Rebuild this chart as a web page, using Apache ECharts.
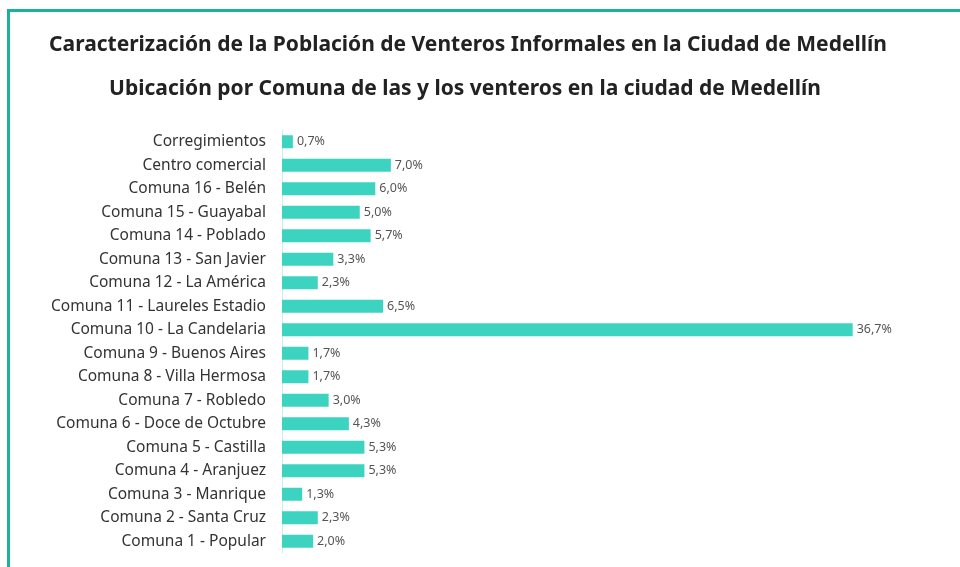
<!DOCTYPE html>
<html>
<head>
<meta charset="utf-8">
<script src="https://cdn.jsdelivr.net/npm/echarts@6/dist/echarts.min.js"></script>
<style>
html,body{margin:0;padding:0;background:#fff;overflow:hidden;width:960px;height:567px;}
#frame{position:absolute;left:7px;top:9px;width:953px;height:558px;border-left:3px solid #19b39c;border-top:3px solid #19b39c;box-sizing:border-box;}
#chart{position:absolute;left:0;top:0;width:960px;height:567px;}
</style>
</head>
<body>
<div id="frame"></div>
<div id="chart"></div>
<script>
const titleMain = 'Caracterización de la Población de Venteros Informales en la Ciudad de Medellín';
const titleSub = 'Ubicación por Comuna de las y los venteros en la ciudad de Medellín';
const categories = [
  'Comuna 1 - Popular',
  'Comuna 2 - Santa Cruz',
  'Comuna 3 - Manrique',
  'Comuna 4 - Aranjuez',
  'Comuna 5 - Castilla',
  'Comuna 6 - Doce de Octubre',
  'Comuna 7 - Robledo',
  'Comuna 8 - Villa Hermosa',
  'Comuna 9 - Buenos Aires',
  'Comuna 10 - La Candelaria',
  'Comuna 11 - Laureles Estadio',
  'Comuna 12 - La América',
  'Comuna 13 - San Javier',
  'Comuna 14 - Poblado',
  'Comuna 15 - Guayabal',
  'Comuna 16 - Belén',
  'Centro comercial',
  'Corregimientos'
];
const values = [2.0, 2.3, 1.3, 5.3, 5.3, 4.3, 3.0, 1.7, 1.7, 36.7, 6.5, 2.3, 3.3, 5.7, 5.0, 6.0, 7.0, 0.7];

const chart = echarts.init(document.getElementById('chart'), null, {renderer: 'canvas'});
chart.setOption({
  animation: false,
  title: [
    {text: titleMain, left: 463, top: 30, textAlign: 'center',
     textStyle: {fontFamily: 'Noto Sans', fontWeight: 'bold', fontSize: 21, color: '#222'}},
    {text: titleSub, left: 460, top: 74, textAlign: 'center',
     textStyle: {fontFamily: 'Noto Sans', fontWeight: 'bold', fontSize: 21, color: '#222'}}
  ],
  grid: {left: 282, right: 56, top: 130, bottom: 14, containLabel: false},
  xAxis: {type: 'value', min: 0, max: 40, show: false},
  yAxis: {
    type: 'category', data: categories,
    axisLine: {show: true, lineStyle: {color: '#cdeee9', width: 1}},
    axisTick: {show: false},
    axisLabel: {margin: 16, fontFamily: 'Noto Sans', fontSize: 15.5, color: '#333'}
  },
  series: [{
    type: 'bar', data: values, barWidth: 13,
    itemStyle: {color: '#3dd3c1'},
    label: {show: true, position: 'right', distance: 4, fontFamily: 'Noto Sans', fontSize: 12.5, color: '#555',
      formatter: p => p.value.toFixed(1).replace('.', ',') + '%'}
  }]
});
</script>
</body>
</html>
